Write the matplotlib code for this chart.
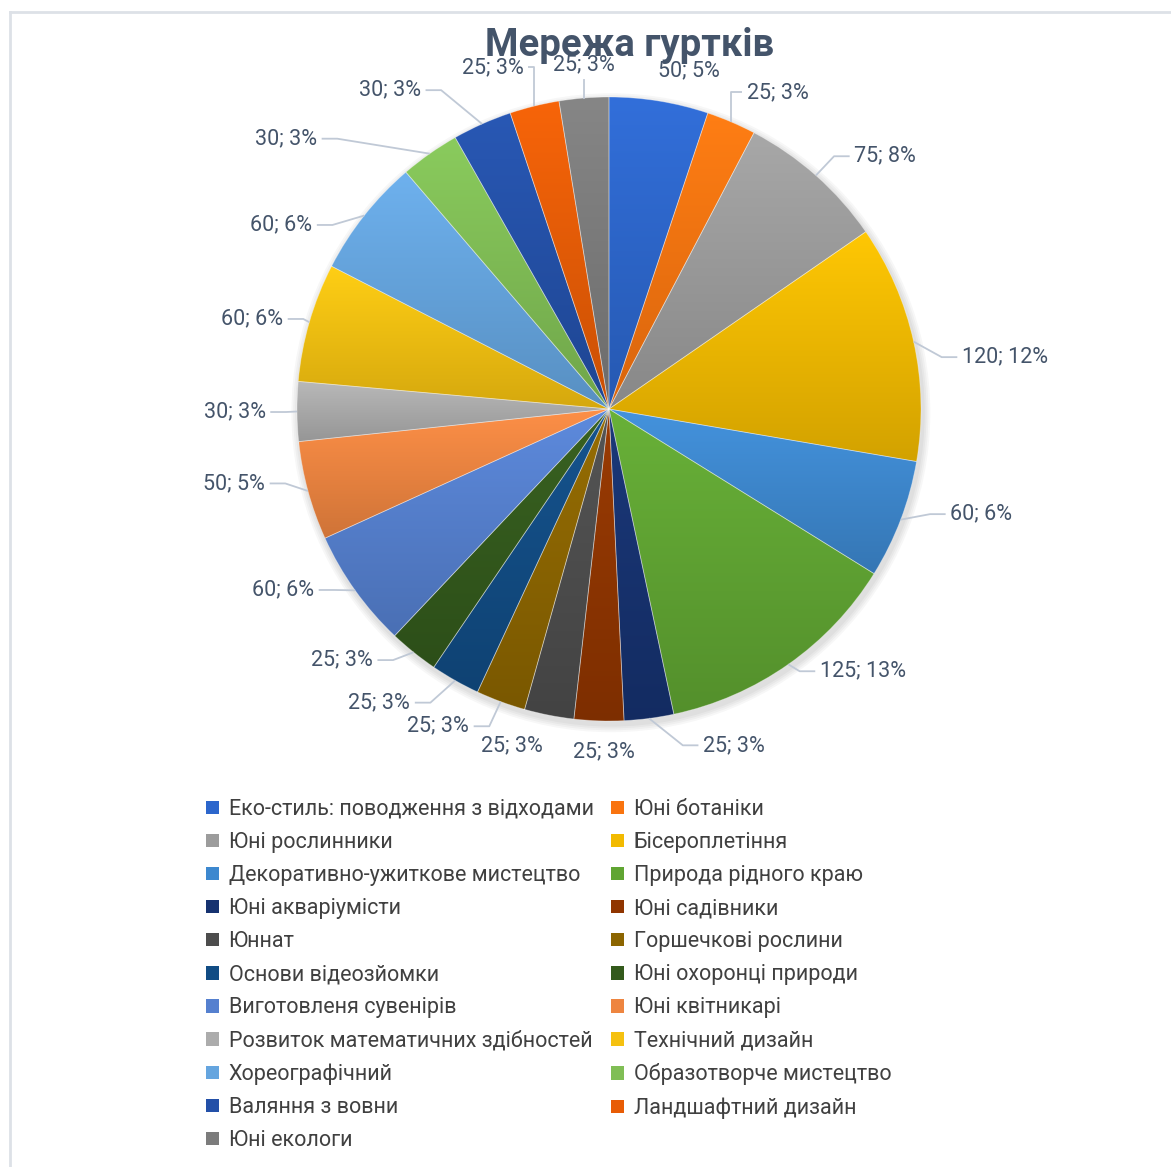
import numpy as np
import matplotlib
matplotlib.use("Agg")
import matplotlib.pyplot as plt
from matplotlib.patches import Patch, Circle
from matplotlib.lines import Line2D
from matplotlib.colors import LinearSegmentedColormap, to_rgb

plt.rcParams['font.family'] = ['Roboto', 'DejaVu Sans']

# дані
names = ['Еко-стиль: поводження з відходами', 'Юні ботаніки', 'Юні рослинники',
         'Бісероплетіння', 'Декоративно-ужиткове мистецтво', 'Природа рідного краю',
         'Юні акваріумісти', 'Юні садівники', 'Юннат', 'Горшечкові рослини',
         'Основи відеозйомки', 'Юні охоронці природи', 'Виготовленя сувенірів',
         'Юні квітникарі', 'Розвиток математичних здібностей', 'Технічний дизайн',
         'Хореографічний', 'Образотворче мистецтво', 'Валяння з вовни',
         'Ландшафтний дизайн', 'Юні екологи']
values = [50, 25, 75, 120, 60, 125, 25, 25, 25, 25, 25, 25, 60, 50, 30, 60, 60, 30, 30, 25, 25]
colors = ['#2C66CC', '#F9740F', '#9C9C9C', '#F2BA00', '#3D88CF', '#60A532',
          '#163270', '#903500', '#4D4D4D', '#8C6500', '#114C84', '#335A1C',
          '#5580CF', '#EE8540', '#ACACAC', '#F5C110', '#65A5DF', '#80BE55',
          '#2350A8', '#E85C05', '#7C7C7C']
title = 'Мережа гуртків'

# розміщення підписів (зсув кута, радіус)
lab_shift = [-4, -5, -6, -5, 5, 9, 13, 1, -5, -8, -8.5, -8, -6.5, -4, 0, 2, 9, 15, 10.5, 5, -0.5]
lab_r = [1.115, 1.15, 1.2, 1.28, 1.24, 1.17, 1.15, 1.10, 1.125, 1.155, 1.195, 1.175,
         1.195, 1.225, 1.20, 1.18, 1.205, 1.35, 1.24, 1.157, 1.106]

W, H = 1171, 1167
fig = plt.figure(figsize=(W / 100, H / 100), dpi=100)

# рамка області діаграми
line_c = '#DDE1E7'
fig.add_artist(Line2D([9.5 / W, 9.5 / W], [0, 1 - 12 / H], color=line_c, lw=2))
fig.add_artist(Line2D([9.5 / W, 1], [1 - 12 / H, 1 - 12 / H], color=line_c, lw=2))

R_px = 312
L = 1.3
cx, cy = 609, 409
aw = 2 * L * R_px
ax = fig.add_axes([(cx - aw / 2) / W, (H - cy - aw / 2) / H, aw / W, aw / H])

# тінь
for i in range(4):
    ax.add_patch(Circle((0.006, -0.012), 1.0 + 0.006 * (i + 1), color='black',
                        alpha=0.03, lw=0, zorder=0))

wedges, _ = ax.pie(values, startangle=90, counterclock=False, radius=1,
                   colors=colors, wedgeprops=dict(linewidth=0))

grad = np.linspace(0, 1, 256).reshape(-1, 1)
for w, c in zip(wedges, colors):
    rgb = np.array(to_rgb(c))
    top = np.clip(rgb * 1.05 + 0.015, 0, 1)
    bot = rgb * 0.87
    cmap = LinearSegmentedColormap.from_list('g', [bot, top])
    ext = w.get_path().get_extents()
    im = ax.imshow(grad, extent=(ext.x0, ext.x1, ext.y0, ext.y1), origin='lower',
                   cmap=cmap, zorder=2, interpolation='bilinear')
    im.set_clip_path(w)
    w.set_zorder(3)
    w.set_facecolor('none')
    w.set_edgecolor((1, 1, 1, 0.35))
    w.set_linewidth(0.6)

ax.set_xlim(-L, L)
ax.set_ylim(-L, L)
ax.set_aspect('equal')
ax.axis('off')

# підписи даних
total = sum(values)
lab_color = '#44546A'
lead_color = '#C0C9D6'
renderer = fig.canvas.get_renderer()
inv = ax.transData.inverted()
cum = 0
for i, v in enumerate(values):
    mid = 90 - (cum + v / 2) / total * 360
    cum += v
    px, py = np.cos(np.radians(mid)), np.sin(np.radians(mid))
    la = np.radians(mid + lab_shift[i])
    tx, ty = lab_r[i] * np.cos(la), lab_r[i] * np.sin(la)
    pct = int(round(v / total * 100))
    t = ax.text(tx, ty, f'{v}; {pct}%', ha='center', va='center', fontsize=15.5,
                color=lab_color, zorder=5)
    bb = t.get_window_extent(renderer).transformed(inv)
    x0, x1, y0, y1 = bb.x0, bb.x1, bb.y0, bb.y1
    # найближча точка рамки тексту
    nx, ny = min(max(px, x0), x1), min(max(py, y0), y1)
    if np.hypot(px - nx, py - ny) < 0.072:
        continue
    pad = 0.015
    if px < x0 - 0.005:
        ax_ = x0 - pad
        sx = max(ax_ - 0.05, px)
        ax.plot([px, sx, ax_], [py, ty, ty], color=lead_color, lw=1.3, zorder=4,
                solid_capstyle='butt')
    elif px > x1 + 0.005:
        ax_ = x1 + pad
        sx = min(ax_ + 0.05, px)
        ax.plot([px, sx, ax_], [py, ty, ty], color=lead_color, lw=1.3, zorder=4,
                solid_capstyle='butt')
    else:
        ey = y0 - pad if py < ty else y1 + pad
        ax.plot([px, px], [py, ey], color=lead_color, lw=1.3, zorder=4)

fig.text(630 / W, 1 - 45 / H, title, ha='center', va='center', fontsize=27.5,
         fontweight='bold', color='#44546A')

# легенда у два стовпці
handles = [Patch(facecolor=c, edgecolor='none') for c in colors]
cols = [list(range(0, len(names), 2)), list(range(1, len(names), 2))]
for k, x_px in enumerate([206, 611]):
    fig.legend([handles[i] for i in cols[k]], [names[i] for i in cols[k]],
               loc='upper left', bbox_to_anchor=(x_px / W, 1 - 799 / H),
               bbox_transform=fig.transFigure, frameon=False, fontsize=15.5,
               labelcolor='#404040', handlelength=0.6, handleheight=0.6,
               handletextpad=0.45, labelspacing=0.56, borderpad=0, borderaxespad=0)

fig.savefig('out.png', dpi=100, facecolor='white')
